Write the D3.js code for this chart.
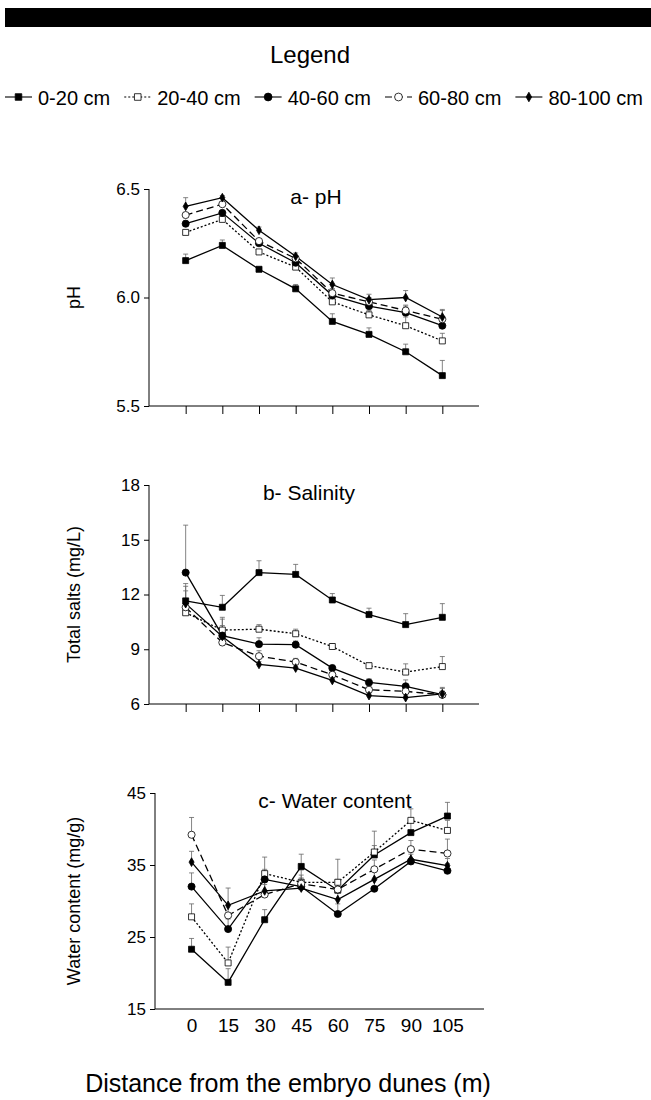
<!DOCTYPE html>
<html lang="en">
<head>
<meta charset="UTF-8">
<title>Soil properties vs distance</title>
<script src="https://d3js.org/d3.v7.min.js"></script>
<style>
  body { margin: 0; background: #fff; font-family: "Liberation Sans", Arial, sans-serif; }
  svg text { fill: #000; }
</style>
</head>
<body>
<svg id="chart" width="651" height="1100"></svg>
<script>
// distances along the transect (m)
var distances = [0, 15, 30, 45, 60, 75, 90, 105];
var depths = ["0-20 cm", "20-40 cm", "40-60 cm", "60-80 cm", "80-100 cm"];

// a- pH, one row per depth
var phMean = [
  [6.17, 6.24, 6.13, 6.04, 5.89, 5.83, 5.75, 5.64],
  [6.30, 6.36, 6.21, 6.14, 5.98, 5.92, 5.87, 5.80],
  [6.34, 6.39, 6.25, 6.16, 6.01, 5.96, 5.93, 5.87],
  [6.38, 6.43, 6.26, 6.18, 6.02, 5.98, 5.94, 5.90],
  [6.42, 6.46, 6.31, 6.19, 6.06, 5.99, 6.00, 5.91]
];
var phErr = [
  [0.03, 0.025, 0.01, 0.02, 0.035, 0.03, 0.035, 0.07],
  [0.01, 0.01, 0.01, 0.01, 0.02, 0.02, 0.04, 0.035],
  [0.015, 0.01, 0.01, 0.01, 0.03, 0.02, 0.03, 0.03],
  [0.01, 0.01, 0.01, 0.01, 0.02, 0.02, 0.025, 0.04],
  [0.04, 0.01, 0.015, 0.015, 0.03, 0.025, 0.032, 0.035]
];

// b- salinity (total salts, mg/L)
var saltMean = [
  [11.65, 11.3, 13.2, 13.1, 11.7, 10.9, 10.35, 10.75],
  [11.0, 10.05, 10.1, 9.85, 9.15, 8.1, 7.75, 8.05],
  [13.2, 9.75, 9.28, 9.25, 7.97, 7.18, 6.97, 6.51],
  [11.3, 9.37, 8.62, 8.3, 7.6, 6.78, 6.69, 6.51],
  [11.5, 9.7, 8.17, 7.97, 7.29, 6.46, 6.35, 6.55]
];
var saltErr = [
  [0.8, 0.65, 0.65, 0.55, 0.35, 0.35, 0.6, 0.75],
  [0.5, 0.7, 0.25, 0.25, 0.15, 0.15, 0.45, 0.55],
  [2.6, 0.9, 0.35, 0.2, 0.15, 0.2, 0.35, 0.4],
  [1.3, 0.8, 0.3, 0.2, 0.15, 0.15, 0.2, 0.2],
  [0.7, 0.6, 0.15, 0.1, 0.1, 0.1, 0.1, 0.3]
];

// c- water content (mg/g)
var waterMean = [
  [23.3, 18.7, 27.4, 34.8, 31.5, 36.4, 39.5, 41.8],
  [27.8, 21.4, 33.8, 32.6, 32.6, 36.8, 41.2, 39.8],
  [32.0, 26.1, 33.0, 32.0, 28.2, 31.7, 35.5, 34.2],
  [39.2, 28.0, 30.9, 32.4, 31.6, 34.4, 37.2, 36.6],
  [35.4, 29.4, 31.4, 31.8, 30.2, 33.0, 35.8, 34.9]
];
var waterErr = [
  [1.5, 1.9, 1.4, 1.7, 1.5, 1.3, 1.4, 1.9],
  [1.8, 2.2, 2.3, 1.7, 3.2, 2.9, 1.6, 1.4],
  [1.9, 1.4, 1.4, 1.2, 1.4, 1.2, 1.0, 1.0],
  [2.4, 1.5, 1.4, 1.2, 1.3, 1.3, 1.2, 2.0],
  [1.5, 2.4, 1.2, 1.2, 1.2, 1.2, 1.0, 1.0]
];

var phTicks = [5.5, 6.0, 6.5];
var saltTicks = [6, 9, 12, 15, 18];
var waterTicks = [15, 25, 35, 45];

// style per depth
var shapes = [d3.symbolSquare, d3.symbolSquare, d3.symbolCircle, d3.symbolCircle, d3.symbolDiamond];
var sizes = [36, 36, 40, 40, 22];
var fills = ["#000", "#fff", "#000", "#fff", "#000"];
var dashes = [null, "2,2", null, "7,4", null];

var svg = d3.select("#chart");
var font = "'Liberation Sans', Arial, sans-serif";

// header bar + legend
svg.append("rect").attr("x", 5).attr("y", 8).attr("width", 646).attr("height", 19).attr("fill", "#000");
svg.append("text").attr("x", 310).attr("y", 63).attr("text-anchor", "middle")
  .style("font-family", font).style("font-size", "24px").text("Legend");

var lx = 5;
depths.forEach(function(name, i) {
  var g = svg.append("g").attr("transform", "translate(" + lx + ",97)");
  g.append("line").attr("x1", 0).attr("x2", 27).attr("y1", 0).attr("y2", 0)
    .attr("stroke", "#000").attr("stroke-width", 1.1).attr("stroke-dasharray", dashes[i]);
  g.append("path").attr("transform", "translate(13.5,0)")
    .attr("d", d3.symbol().type(shapes[i]).size(sizes[i] * 1.2)())
    .attr("fill", fills[i]).attr("stroke", "#000").attr("stroke-width", 0.8);
  var t = g.append("text").attr("x", 33).attr("y", 8)
    .style("font-family", font).style("font-size", "20px").text(name);
  lx += 33 + t.node().getComputedTextLength() + 14;
});

function panel(opts) {
  var x = d3.scaleLinear().domain([-15, 120]).range([opts.left, opts.right]);
  var y = d3.scaleLinear().domain(opts.domain).range([opts.bottom, opts.top]);
  var g = svg.append("g");

  // y axis
  var ya = g.append("g").attr("transform", "translate(" + opts.left + ",0)")
    .call(d3.axisLeft(y).tickValues(opts.ticks).tickSize(5).tickPadding(4)
      .tickFormat(opts.fmt));
  ya.select(".domain").attr("d", "M0," + opts.top + "V" + opts.bottom);
  ya.selectAll("text").style("font-family", font).style("font-size", "17px");

  // x axis
  var xa = g.append("g").attr("transform", "translate(0," + opts.bottom + ")")
    .call(d3.axisBottom(x).tickValues(distances).tickSize(opts.xlabels ? 0 : 8)
      .tickPadding(opts.xlabels ? 10 : 3).tickFormat(opts.xlabels ? d3.format("d") : ""));
  xa.select(".domain").attr("d", "M" + opts.left + ",0H" + opts.right);
  xa.selectAll("text").style("font-family", font).style("font-size", "19px");

  // y title
  g.append("text")
    .attr("transform", "translate(" + 80 + "," + (opts.top + opts.bottom) / 2 + ") rotate(-90)")
    .attr("text-anchor", "middle").style("font-family", font).style("font-size", "18px")
    .text(opts.ytitle);

  // panel title
  g.append("text").attr("x", opts.titleX).attr("y", opts.top + 15).attr("text-anchor", "middle")
    .style("font-family", font).style("font-size", "21px").text(opts.title);

  // error bars (upper only)
  opts.means.forEach(function(row, i) {
    var eb = g.append("g").attr("stroke", "#666").attr("stroke-width", 0.8);
    row.forEach(function(v, j) {
      var x0 = x(distances[j]), yt = y(v + opts.errs[i][j]);
      eb.append("line").attr("x1", x0).attr("x2", x0).attr("y1", y(v)).attr("y2", yt);
      eb.append("line").attr("x1", x0 - 2.5).attr("x2", x0 + 2.5).attr("y1", yt).attr("y2", yt);
    });
  });

  var line = d3.line().x(function(d, j) { return x(distances[j]); }).y(function(d) { return y(d); });
  opts.means.forEach(function(row, i) {
    g.append("path").datum(row).attr("d", line).attr("fill", "none")
      .attr("stroke", "#000").attr("stroke-width", 1.3).attr("stroke-dasharray", dashes[i]);
  });
  opts.means.forEach(function(row, i) {
    g.append("g").selectAll("path").data(row).enter().append("path")
      .attr("transform", function(d, j) { return "translate(" + x(distances[j]) + "," + y(d) + ")"; })
      .attr("d", d3.symbol().type(shapes[i]).size(sizes[i])())
      .attr("fill", fills[i]).attr("stroke", "#000").attr("stroke-width", 0.8);
  });
}

panel({ means: phMean, errs: phErr, domain: [5.5, 6.5], ticks: phTicks, fmt: d3.format(".1f"),
  left: 149, right: 479, top: 189, bottom: 406, ytitle: "pH", title: "a- pH", titleX: 316, xlabels: false });
panel({ means: saltMean, errs: saltErr, domain: [6, 18], ticks: saltTicks, fmt: d3.format("d"),
  left: 149, right: 479, top: 485, bottom: 704, ytitle: "Total salts (mg/L)", title: "b- Salinity", titleX: 309, xlabels: false });
panel({ means: waterMean, errs: waterErr, domain: [15, 45], ticks: waterTicks, fmt: d3.format("d"),
  left: 155, right: 484, top: 793, bottom: 1009, ytitle: "Water content (mg/g)", title: "c- Water content", titleX: 335, xlabels: true });

// shared x title
svg.append("text").attr("x", 288).attr("y", 1092).attr("text-anchor", "middle")
  .style("font-family", font).style("font-size", "25px").text("Distance from the embryo dunes (m)");
</script>
</body>
</html>
